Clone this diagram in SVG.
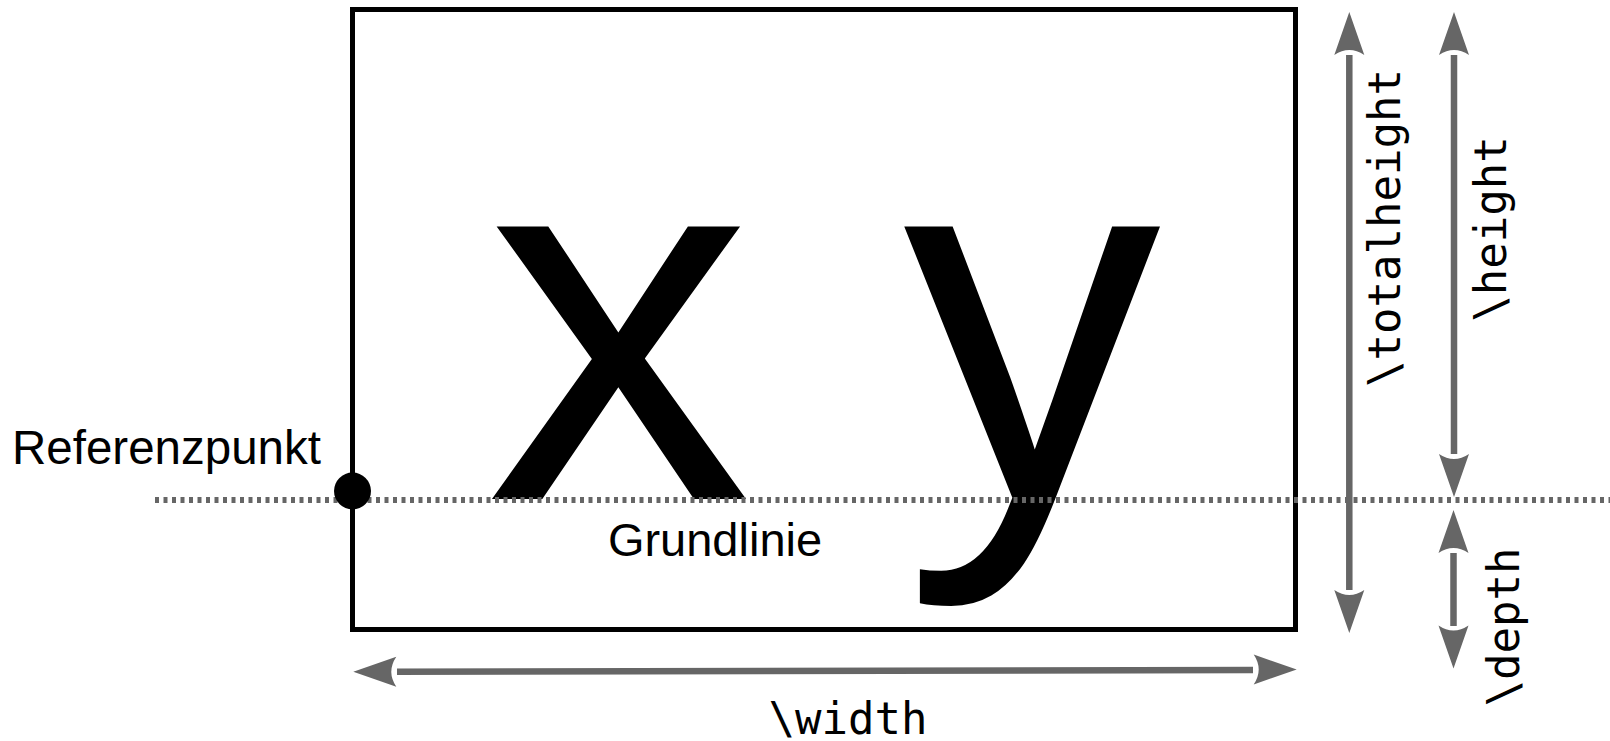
<svg xmlns="http://www.w3.org/2000/svg" width="1610" height="741" viewBox="0 0 1610 741">
<style>
.sans{font-family:"Liberation Sans",Arial,sans-serif;fill:#000}
.mono{font-family:"DejaVu Sans Mono","Liberation Mono",monospace;font-size:44px;fill:#000}
.dim{stroke:#666;stroke-width:6.5;fill:none}
.head{fill:#666}
</style>
<defs>
<path id="ah" d="M0,0 L-43,-15 Q-33,0 -43,15 Z"/>
</defs>
<rect width="1610" height="741" fill="#fff"/>
<g id="box">
<rect x="352.5" y="9.5" width="943" height="620" fill="none" stroke="#000" stroke-width="5"/>
</g>
<g id="letters">
<text class="sans" transform="translate(486,499) scale(1.03,1)" font-size="516">x</text>
<text class="sans" transform="translate(903,499)" font-size="516">y</text>
</g>
<g id="baseline">
<line x1="155" y1="500" x2="1610" y2="500" stroke="#666" stroke-width="6" stroke-dasharray="4 4.5"/>
<text class="sans" x="715" y="556" font-size="47" text-anchor="middle">Grundlinie</text>
</g>
<g id="referenzpunkt">
<circle cx="352.5" cy="491" r="18.5" fill="#000"/>
<text class="sans" x="12" y="464" font-size="47.5">Referenzpunkt</text>
</g>
<g id="connectors">
<g id="width-arrow">
<line class="dim" x1="397" y1="671.7" x2="1253" y2="670"/>
<use href="#ah" class="head" transform="translate(353.3,671.7) rotate(180)"/>
<use href="#ah" class="head" transform="translate(1296.7,669.5)"/>
</g>
<g id="totalheight-arrow">
<line class="dim" x1="1349.3" y1="55" x2="1349.3" y2="590"/>
<use href="#ah" class="head" transform="translate(1349.3,12) rotate(-90)"/>
<use href="#ah" class="head" transform="translate(1349.3,633) rotate(90)"/>
</g>
<g id="height-arrow">
<line class="dim" x1="1454" y1="55" x2="1454" y2="454"/>
<use href="#ah" class="head" transform="translate(1454,12) rotate(-90)"/>
<use href="#ah" class="head" transform="translate(1454,497) rotate(90)"/>
</g>
<g id="depth-arrow">
<line class="dim" x1="1453.5" y1="553" x2="1453.5" y2="626"/>
<use href="#ah" class="head" transform="translate(1453.5,510) rotate(-90)"/>
<use href="#ah" class="head" transform="translate(1453.5,668.5) rotate(90)"/>
</g>
</g>
<g id="labels">
<text class="mono" text-anchor="middle" x="848" y="734">\width</text>
<text class="mono" text-anchor="middle" transform="translate(1400,228) rotate(-90)">\totalheight</text>
<text class="mono" text-anchor="middle" transform="translate(1506,229) rotate(-90)">\height</text>
<text class="mono" text-anchor="middle" transform="translate(1519,627) rotate(-90)">\depth</text>
</g>
</svg>
